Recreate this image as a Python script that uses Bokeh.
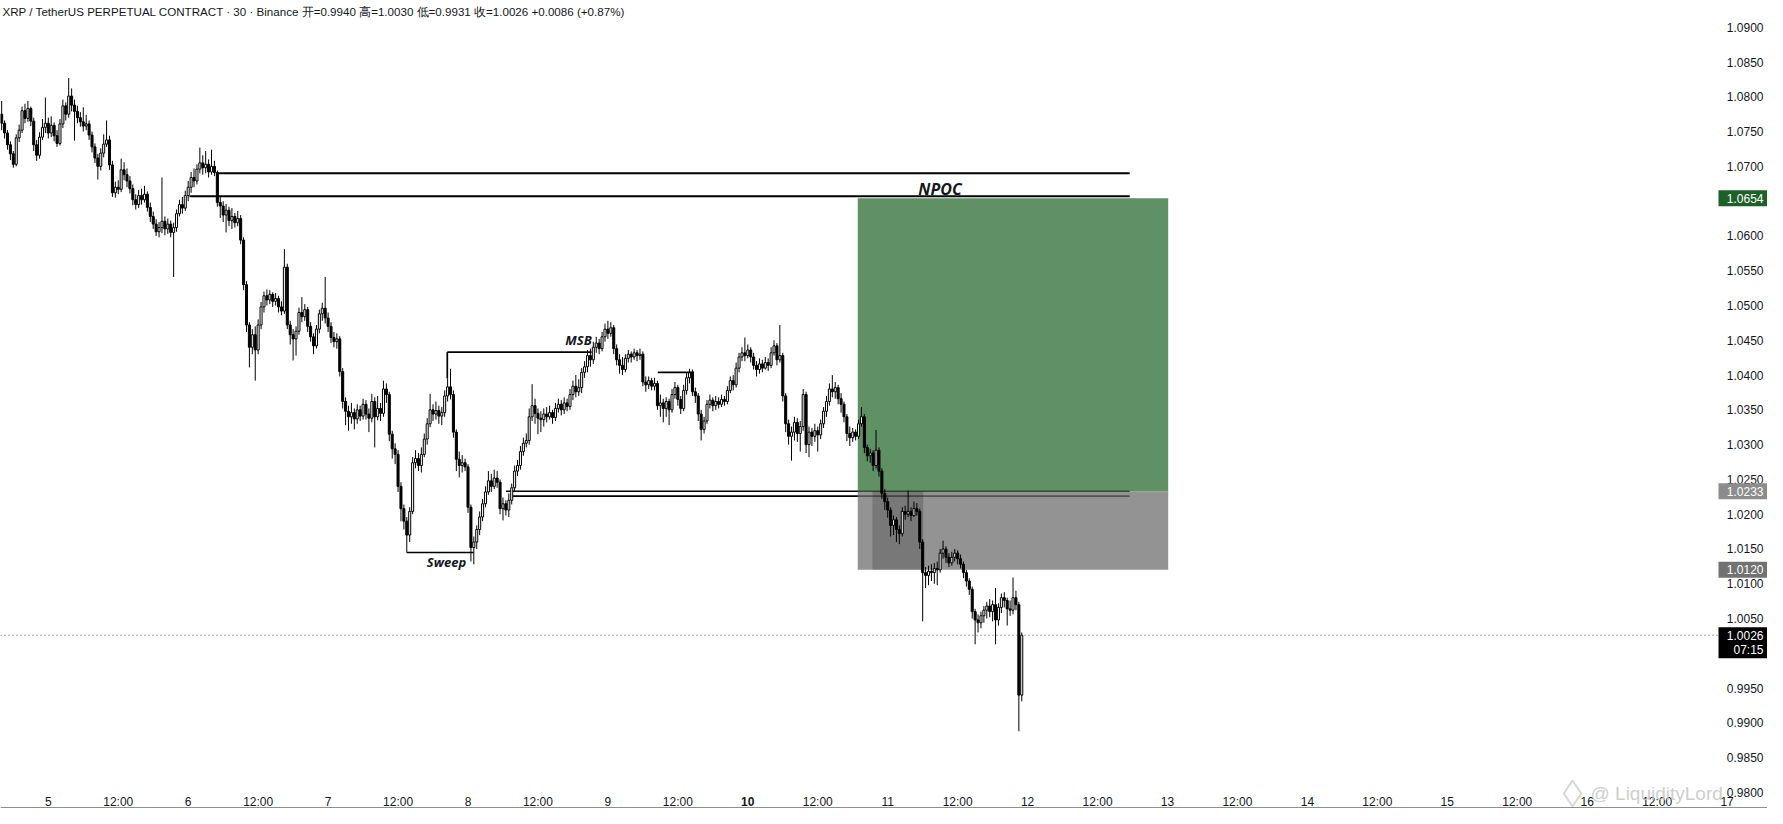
from bokeh.plotting import figure
from bokeh.models import ColumnDataSource, Range1d
from bokeh.embed import file_html
from bokeh.resources import INLINE
from bokeh.core.properties import value

# ---------------- data ----------------
header_text = ("XRP / TetherUS PERPETUAL CONTRACT · 30 · Binance  开=0.9940  高=1.0030  "
               "低=0.9931  收=1.0026  +0.0086 (+0.87%)")

start_day = 4 + 16 / 24      # first candle: day 4, 16:00
interval = 1 / 48            # 30-minute candles
first_open = 1.0775

closes = [
    1.0762, 1.0748, 1.0731, 1.0718, 1.0703, 1.0741, 1.0752, 1.0780, 1.0769, 1.0783,
    1.0765, 1.0731, 1.0716, 1.0742, 1.0756, 1.0762, 1.0748, 1.0759, 1.0744, 1.0733,
    1.0761, 1.0787, 1.0775, 1.0801, 1.0788, 1.0779, 1.0770, 1.0764, 1.0758, 1.0761,
    1.0745, 1.0728, 1.0712, 1.0700, 1.0719, 1.0732, 1.0738, 1.0702, 1.0662, 1.0670,
    1.0667, 1.0695, 1.0688, 1.0679, 1.0668, 1.0652, 1.0645, 1.0658, 1.0652, 1.0660,
    1.0641, 1.0628, 1.0617, 1.0606, 1.0612, 1.0621, 1.0610, 1.0617, 1.0605, 1.0612,
    1.0632, 1.0645, 1.0640, 1.0658, 1.0670, 1.0684, 1.0679, 1.0696, 1.0705, 1.0698,
    1.0703, 1.0692, 1.0700, 1.0691, 1.0648, 1.0643, 1.0630, 1.0637, 1.0622, 1.0628,
    1.0619, 1.0625, 1.0594, 1.0530, 1.0472, 1.0440, 1.0458, 1.0436, 1.0472, 1.0498,
    1.0514, 1.0508, 1.0516, 1.0506, 1.0510, 1.0498, 1.0492, 1.0555, 1.0472, 1.0458,
    1.0452, 1.0463, 1.0490, 1.0484, 1.0494, 1.0470, 1.0455, 1.0442, 1.0466, 1.0488,
    1.0496, 1.0482, 1.0470, 1.0454, 1.0448, 1.0452, 1.0405, 1.0362, 1.0348, 1.0340,
    1.0346, 1.0337, 1.0350, 1.0341, 1.0358, 1.0344, 1.0338, 1.0362, 1.0340, 1.0352,
    1.0345, 1.0380, 1.0372, 1.0315, 1.0294, 1.0286, 1.0240, 1.0208, 1.0190, 1.0170,
    1.0204, 1.0274, 1.0280, 1.0270, 1.0286, 1.0308, 1.0330, 1.0350, 1.0344, 1.0349,
    1.0341, 1.0346, 1.0370, 1.0383, 1.0372, 1.0318, 1.0279, 1.0270, 1.0274, 1.0268,
    1.0210, 1.0152, 1.0160, 1.0178, 1.0196, 1.0215, 1.0232, 1.0248, 1.0240, 1.0252,
    1.0246, 1.0208, 1.0215, 1.0206, 1.0220, 1.0238, 1.0262, 1.0270, 1.0290, 1.0302,
    1.0306, 1.0340, 1.0356, 1.0345, 1.0338, 1.0336, 1.0344, 1.0340, 1.0346, 1.0339,
    1.0352, 1.0358, 1.0350, 1.0360, 1.0355, 1.0372, 1.0384, 1.0376, 1.0382, 1.0404,
    1.0412, 1.0428, 1.0422, 1.0440, 1.0446, 1.0438, 1.0455, 1.0466, 1.0460, 1.0468,
    1.0438, 1.0422, 1.0414, 1.0408, 1.0424, 1.0430, 1.0426, 1.0432, 1.0428, 1.0430,
    1.0390, 1.0386, 1.0392, 1.0384, 1.0388, 1.0356, 1.0360, 1.0352, 1.0362, 1.0350,
    1.0372, 1.0382, 1.0365, 1.0352, 1.0378, 1.0396, 1.0404, 1.0376, 1.0370, 1.0344,
    1.0322, 1.0334, 1.0358, 1.0364, 1.0356, 1.0362, 1.0358, 1.0365, 1.0362, 1.0378,
    1.0392, 1.0386, 1.0410, 1.0426, 1.0432, 1.0428, 1.0436, 1.0426, 1.0414, 1.0408,
    1.0416, 1.0410, 1.0418, 1.0414, 1.0432, 1.0442, 1.0422, 1.0428, 1.0370, 1.0330,
    1.0312, 1.0318, 1.0332, 1.0316, 1.0326, 1.0372, 1.0300, 1.0318, 1.0312, 1.0320,
    1.0314, 1.0330, 1.0348, 1.0362, 1.0380, 1.0376, 1.0382, 1.0366, 1.0358, 1.0340,
    1.0316, 1.0310, 1.0318, 1.0312, 1.0330, 1.0340, 1.0296, 1.0284, 1.0288, 1.0270,
    1.0292, 1.0262, 1.0230, 1.0218, 1.0206, 1.0184, 1.0192, 1.0178, 1.0172, 1.0204,
    1.0200, 1.0204, 1.0198, 1.0208, 1.0204, 1.0160, 1.0116, 1.0112, 1.0118, 1.0116,
    1.0122, 1.0120, 1.0144, 1.0150, 1.0138, 1.0130, 1.0138, 1.0144, 1.0136, 1.0128,
    1.0116, 1.0104, 1.0092, 1.0060, 1.0048, 1.0044, 1.0054, 1.0062, 1.0068, 1.0060,
    1.0070, 1.0048, 1.0066, 1.0080, 1.0076, 1.0064, 1.0062, 1.0080, 1.0070, 0.9940, 1.0026,
]

highs = [
    1.0794, 1.0766, 1.0752, 1.0736, 1.0722, 1.0746, 1.0760, 1.0786, 1.0790, 1.0794,
    1.0786, 1.0770, 1.0738, 1.0749, 1.0768, 1.0799, 1.0770, 1.0772, 1.0763, 1.0752,
    1.0768, 1.0796, 1.0792, 1.0827, 1.0812, 1.0796, 1.0787, 1.0778, 1.0785, 1.0774,
    1.0766, 1.0750, 1.0733, 1.0718, 1.0726, 1.0746, 1.0766, 1.0744, 1.0708, 1.0678,
    1.0680, 1.0711, 1.0706, 1.0697, 1.0686, 1.0674, 1.0660, 1.0666, 1.0668, 1.0672,
    1.0664, 1.0648, 1.0635, 1.0624, 1.0620, 1.0684, 1.0628, 1.0625, 1.0622, 1.0619,
    1.0638, 1.0652, 1.0656, 1.0665, 1.0679, 1.0692, 1.0697, 1.0703, 1.0727, 1.0716,
    1.0722, 1.0710, 1.0724, 1.0708, 1.0694, 1.0658, 1.0650, 1.0646, 1.0642, 1.0640,
    1.0633, 1.0636, 1.0630, 1.0598, 1.0535, 1.0476, 1.0466, 1.0470, 1.0480, 1.0505,
    1.0520, 1.0523, 1.0522, 1.0519, 1.0518, 1.0514, 1.0506, 1.0581, 1.0560, 1.0478,
    1.0466, 1.0470, 1.0497, 1.0512, 1.0502, 1.0498, 1.0476, 1.0460, 1.0472, 1.0494,
    1.0504, 1.0541, 1.0490, 1.0476, 1.0462, 1.0460, 1.0456, 1.0410, 1.0368, 1.0356,
    1.0360, 1.0352, 1.0358, 1.0356, 1.0366, 1.0364, 1.0352, 1.0373, 1.0368, 1.0370,
    1.0360, 1.0392, 1.0388, 1.0376, 1.0320, 1.0302, 1.0292, 1.0246, 1.0214, 1.0196,
    1.0210, 1.0282, 1.0292, 1.0288, 1.0296, 1.0316, 1.0338, 1.0373, 1.0358, 1.0362,
    1.0356, 1.0354, 1.0378, 1.0395, 1.0409, 1.0378, 1.0322, 1.0290, 1.0285, 1.0280,
    1.0272, 1.0214, 1.0168, 1.0184, 1.0204, 1.0222, 1.0240, 1.0262, 1.0258, 1.0264,
    1.0262, 1.0250, 1.0224, 1.0220, 1.0230, 1.0244, 1.0270, 1.0278, 1.0298, 1.0310,
    1.0316, 1.0352, 1.0387, 1.0366, 1.0352, 1.0348, 1.0352, 1.0354, 1.0356, 1.0350,
    1.0360, 1.0366, 1.0364, 1.0368, 1.0366, 1.0380, 1.0392, 1.0400, 1.0394, 1.0410,
    1.0420, 1.0436, 1.0438, 1.0448, 1.0455, 1.0452, 1.0462, 1.0474, 1.0478, 1.0476,
    1.0472, 1.0444, 1.0430, 1.0426, 1.0430, 1.0436, 1.0434, 1.0438, 1.0436, 1.0438,
    1.0434, 1.0398, 1.0398, 1.0396, 1.0396, 1.0392, 1.0372, 1.0366, 1.0368, 1.0366,
    1.0380, 1.0390, 1.0386, 1.0370, 1.0386, 1.0404, 1.0409, 1.0408, 1.0382, 1.0374,
    1.0350, 1.0340, 1.0364, 1.0372, 1.0368, 1.0370, 1.0368, 1.0372, 1.0370, 1.0384,
    1.0398, 1.0400, 1.0418, 1.0432, 1.0440, 1.0454, 1.0444, 1.0440, 1.0432, 1.0420,
    1.0424, 1.0422, 1.0426, 1.0424, 1.0440, 1.0450, 1.0446, 1.0472, 1.0432, 1.0374,
    1.0336, 1.0326, 1.0340, 1.0338, 1.0334, 1.0380, 1.0376, 1.0326, 1.0324, 1.0330,
    1.0326, 1.0336, 1.0354, 1.0370, 1.0388, 1.0400, 1.0390, 1.0386, 1.0374, 1.0362,
    1.0344, 1.0326, 1.0324, 1.0322, 1.0336, 1.0354, 1.0344, 1.0300, 1.0294, 1.0292,
    1.0321, 1.0296, 1.0266, 1.0236, 1.0224, 1.0210, 1.0198, 1.0196, 1.0184, 1.0210,
    1.0212, 1.0234, 1.0210, 1.0218, 1.0216, 1.0208, 1.0164, 1.0124, 1.0126, 1.0128,
    1.0130, 1.0132, 1.0150, 1.0162, 1.0154, 1.0144, 1.0146, 1.0150, 1.0148, 1.0142,
    1.0132, 1.0120, 1.0108, 1.0096, 1.0064, 1.0056, 1.0060, 1.0068, 1.0074, 1.0078,
    1.0076, 1.0094, 1.0072, 1.0086, 1.0088, 1.0080, 1.0076, 1.0109, 1.0090, 1.0074, 1.0030,
]

lows = [
    1.0752, 1.0740, 1.0724, 1.0709, 1.0698, 1.0700, 1.0735, 1.0748, 1.0762, 1.0764,
    1.0758, 1.0722, 1.0708, 1.0711, 1.0738, 1.0748, 1.0740, 1.0742, 1.0736, 1.0728,
    1.0730, 1.0755, 1.0766, 1.0770, 1.0779, 1.0737, 1.0762, 1.0757, 1.0750, 1.0752,
    1.0738, 1.0720, 1.0705, 1.0681, 1.0694, 1.0713, 1.0728, 1.0695, 1.0656, 1.0655,
    1.0660, 1.0663, 1.0680, 1.0670, 1.0661, 1.0644, 1.0638, 1.0640, 1.0645, 1.0648,
    1.0635, 1.0620, 1.0610, 1.0600, 1.0598, 1.0604, 1.0601, 1.0603, 1.0598, 1.0541,
    1.0606, 1.0628, 1.0632, 1.0636, 1.0650, 1.0662, 1.0670, 1.0674, 1.0690, 1.0688,
    1.0690, 1.0684, 1.0688, 1.0686, 1.0642, 1.0626, 1.0620, 1.0605, 1.0614, 1.0610,
    1.0612, 1.0614, 1.0588, 1.0522, 1.0462, 1.0411, 1.0430, 1.0392, 1.0430, 1.0466,
    1.0490, 1.0500, 1.0502, 1.0498, 1.0500, 1.0490, 1.0486, 1.0488, 1.0466, 1.0444,
    1.0421, 1.0428, 1.0458, 1.0476, 1.0478, 1.0462, 1.0448, 1.0430, 1.0438, 1.0460,
    1.0478, 1.0474, 1.0462, 1.0446, 1.0440, 1.0438, 1.0398, 1.0352, 1.0328, 1.0320,
    1.0330, 1.0322, 1.0330, 1.0334, 1.0336, 1.0336, 1.0318, 1.0332, 1.0296, 1.0335,
    1.0334, 1.0340, 1.0360, 1.0305, 1.0280, 1.0272, 1.0232, 1.0190, 1.0178, 1.0146,
    1.0160, 1.0200, 1.0266, 1.0262, 1.0260, 1.0282, 1.0300, 1.0325, 1.0334, 1.0336,
    1.0330, 1.0328, 1.0340, 1.0362, 1.0365, 1.0310, 1.0262, 1.0253, 1.0260, 1.0262,
    1.0202, 1.0132, 1.0128, 1.0150, 1.0170, 1.0190, 1.0210, 1.0228, 1.0232, 1.0236,
    1.0238, 1.0200, 1.0191, 1.0198, 1.0196, 1.0214, 1.0232, 1.0255, 1.0264, 1.0284,
    1.0296, 1.0300, 1.0334, 1.0330, 1.0315, 1.0318, 1.0326, 1.0332, 1.0336, 1.0330,
    1.0334, 1.0346, 1.0342, 1.0344, 1.0348, 1.0350, 1.0364, 1.0368, 1.0370, 1.0374,
    1.0396, 1.0404, 1.0412, 1.0416, 1.0432, 1.0430, 1.0434, 1.0448, 1.0452, 1.0455,
    1.0430, 1.0414, 1.0402, 1.0400, 1.0404, 1.0418, 1.0418, 1.0422, 1.0420, 1.0422,
    1.0384, 1.0376, 1.0380, 1.0378, 1.0378, 1.0350, 1.0340, 1.0332, 1.0340, 1.0328,
    1.0346, 1.0366, 1.0356, 1.0344, 1.0348, 1.0372, 1.0388, 1.0370, 1.0360, 1.0334,
    1.0306, 1.0316, 1.0330, 1.0352, 1.0348, 1.0350, 1.0352, 1.0354, 1.0356, 1.0358,
    1.0374, 1.0378, 1.0382, 1.0404, 1.0420, 1.0420, 1.0424, 1.0418, 1.0408, 1.0398,
    1.0402, 1.0404, 1.0408, 1.0406, 1.0410, 1.0428, 1.0414, 1.0418, 1.0362, 1.0318,
    1.0300, 1.0277, 1.0306, 1.0304, 1.0290, 1.0320, 1.0288, 1.0282, 1.0298, 1.0304,
    1.0290, 1.0308, 1.0324, 1.0340, 1.0356, 1.0368, 1.0366, 1.0358, 1.0346, 1.0332,
    1.0305, 1.0298, 1.0304, 1.0306, 1.0308, 1.0326, 1.0288, 1.0276, 1.0274, 1.0262,
    1.0266, 1.0254, 1.0222, 1.0206, 1.0195, 1.0168, 1.0170, 1.0160, 1.0157, 1.0168,
    1.0192, 1.0196, 1.0190, 1.0196, 1.0198, 1.0150, 1.0046, 1.0094, 1.0098, 1.0104,
    1.0100, 1.0098, 1.0116, 1.0136, 1.0130, 1.0124, 1.0126, 1.0132, 1.0128, 1.0122,
    1.0108, 1.0096, 1.0084, 1.0050, 1.0013, 1.0030, 1.0036, 1.0044, 1.0050, 1.0052,
    1.0046, 1.0013, 1.0040, 1.0058, 1.0066, 1.0040, 1.0054, 1.0056, 1.0062, 0.9888, 0.9931,
]

price_ticks = [0.9800, 0.9850, 0.9900, 0.9950, 1.0000, 1.0050, 1.0100, 1.0150, 1.0200,
               1.0250, 1.0300, 1.0350, 1.0400, 1.0450, 1.0500, 1.0550, 1.0600, 1.0650,
               1.0700, 1.0750, 1.0800, 1.0850, 1.0900]
time_ticks = [5, 5.5, 6, 6.5, 7, 7.5, 8, 8.5, 9, 9.5, 10, 10.5, 11, 11.5, 12, 12.5,
              13, 13.5, 14, 14.5, 15, 15.5, 16, 16.5, 17]
time_labels = ["5", "12:00", "6", "12:00", "7", "12:00", "8", "12:00", "9", "12:00",
               "10", "12:00", "11", "12:00", "12", "12:00", "13", "12:00", "14", "12:00",
               "15", "12:00", "16", "12:00", "17"]
bold_time_label = "10"

# drawn levels (price) and their time extents (day)
npoc_levels = [1.0690, 1.0657]
npoc_starts = [6.209, 6.009]
zone_levels = [1.0233, 1.0226]
zone_starts = [8.272, 8.309]
levels_end = 12.73
msb_level, msb_start, msb_end, msb_anchor = 1.0433, 7.852, 8.884, 1.0395
sweep_level, sweep_start, sweep_end = 1.0145, 7.560, 8.039
mini_level, mini_start, mini_end = 1.0404, 9.357, 9.616

# long-position tool
pos_left, pos_right = 10.786, 13.005
pos_target, pos_entry, pos_stop = 1.0654, 1.0233, 1.0120
pos_dark_left, pos_dark_right = 10.891, 11.254

notes = ["NPOC", "MSB", "Sweep"]
note_x = [11.374, 8.79, 7.846]
note_y = [1.06523, 1.0451, 1.0131]

last_price = 1.0026
countdown = "07:15"
tag_prices = [1.0654, 1.0233, 1.0120]
tag_colors = ["#1d6128", "#8c8c8c", "#727272"]
watermark = "@ LiquidityLord"

# ---------------- figure (frame covers the whole canvas) ----------------
W, H = 1767, 808
x_start, x_end = 4.65833, 17.2888
y_low, y_high = 0.97770, 1.09384
dx = (x_end - x_start) / W      # days per pixel
dy = (y_high - y_low) / H       # price per pixel

p = figure(width=W, height=H, output_backend="svg", toolbar_location=None,
           x_range=Range1d(x_start, x_end), y_range=Range1d(y_low, y_high),
           min_border_left=0, min_border_top=0, min_border_right=0, min_border_bottom=0)
p.xaxis.visible = False
p.yaxis.visible = False
p.grid.visible = False
p.outline_line_color = None
p.background_fill_color = "#ffffff"
p.border_fill_color = "#ffffff"

axis_font = value("Liberation Sans")
ink = "#131722"

# price scale (right) and time scale (bottom)
scale_right_x = x_end - 4 * dx
p.text(x=[scale_right_x] * len(price_ticks), y=price_ticks,
       text=[f"{t:.4f}" for t in price_ticks], text_font=axis_font, text_font_size="12px",
       text_color=ink, text_align="right", text_baseline="middle")
time_src = ColumnDataSource(dict(
    x=time_ticks, y=[y_low + 7 * dy] * len(time_ticks), text=time_labels,
    style=["bold" if t == bold_time_label else "normal" for t in time_labels]))
p.text(x="x", y="y", text="text", text_font_style="style", source=time_src,
       text_font=axis_font, text_font_size="12px", text_color=ink,
       text_align="center", text_baseline="middle")
p.segment(x0=[x_start], y0=[y_low + 0.7 * dy], x1=[x_end], y1=[y_low + 0.7 * dy],
          line_color="#8f8f8f", line_width=1.4)

# lines lying under the position boxes
p.segment(x0=zone_starts, y0=zone_levels, x1=[levels_end] * 2, y1=zone_levels,
          line_color="#000000", line_width=1.7)

# position tool boxes
p.quad(left=[pos_left], right=[pos_right], bottom=[pos_entry], top=[pos_target],
       fill_color="#2a6c32", fill_alpha=0.75, line_color=None)
p.quad(left=[pos_left], right=[pos_right], bottom=[pos_stop], top=[pos_entry],
       fill_color="#6f6f6f", fill_alpha=0.75, line_color=None)
p.quad(left=[pos_dark_left], right=[pos_dark_right], bottom=[pos_stop], top=[pos_entry],
       fill_color="#000000", fill_alpha=0.18, line_color=None)

# candles
n = len(closes)
opens = [first_open] + closes[:-1]
xs = [start_day + i * interval for i in range(n)]
tops = [max(o, c) for o, c in zip(opens, closes)]
bottoms = [min(o, c) for o, c in zip(opens, closes)]
hi = [max(h, t) for h, t in zip(highs, tops)]
lo = [min(l, b) for l, b in zip(lows, bottoms)]
fills = ["#ffffff" if c >= o else "#000000" for o, c in zip(opens, closes)]
src = ColumnDataSource(dict(x=xs, top=tops, bottom=bottoms, high=hi, low=lo, fill=fills))
p.segment(x0="x", y0="high", x1="x", y1="low", source=src, line_color="#000000", line_width=1)
p.vbar(x="x", width=interval * 0.7, top="top", bottom="bottom", source=src,
       fill_color="fill", line_color="#000000", line_width=1)

# drawn lines
p.segment(x0=npoc_starts, y0=npoc_levels, x1=[levels_end] * 2, y1=npoc_levels,
          line_color="#000000", line_width=2)
p.segment(x0=[msb_start, msb_start, sweep_start, mini_start],
          y0=[msb_level, msb_level, sweep_level, mini_level],
          x1=[msb_end, msb_start, sweep_end, mini_end],
          y1=[msb_level, msb_anchor, sweep_level, mini_level],
          line_color="#000000", line_width=1.7)

# current price dotted line
tag_left = x_end - 49 * dx
p.segment(x0=[x_start], y0=[last_price], x1=[tag_left], y1=[last_price],
          line_color="#555555", line_width=1, line_dash="1 3")

# notes
p.text(x=note_x[:1], y=note_y[:1], text=notes[:1], text_font=value("Open Sans"),
       text_font_style="bold italic", text_font_size="16px", text_color=ink,
       text_align="center", text_baseline="bottom")
p.text(x=note_x[1:], y=note_y[1:], text=notes[1:], text_font=value("Open Sans"),
       text_font_style="bold italic", text_font_size="13px", text_color=ink,
       text_align="center", text_baseline="middle")

# header
p.text(x=[x_start + 2 * dx], y=[1.0922], text=[header_text],
       text_font=value("Liberation Sans"), text_font_size="11.6px", text_color=ink,
       text_align="left", text_baseline="middle")

# price tags on the scale
p.quad(left=[tag_left] * 3, right=[x_end] * 3,
       bottom=[t - 8 * dy for t in tag_prices], top=[t + 8 * dy for t in tag_prices],
       fill_color=tag_colors, line_color=None)
p.text(x=[scale_right_x] * 3, y=tag_prices, text=[f"{t:.4f}" for t in tag_prices],
       text_font=axis_font, text_font_size="12px", text_color="#ffffff",
       text_align="right", text_baseline="middle")
p.quad(left=[tag_left], right=[x_end], bottom=[last_price - 23 * dy],
       top=[last_price + 8 * dy], fill_color="#000000", line_color=None)
p.text(x=[scale_right_x] * 2, y=[last_price, last_price - 15 * dy],
       text=[f"{last_price:.4f}", countdown], text_font=axis_font, text_font_size="12px",
       text_color="#ffffff", text_align="right", text_baseline="middle")

# watermark
p.scatter(x=[x_end - 195 * dx], y=[y_low + 15 * dy], marker="diamond", size=26,
          fill_color=None, line_color="#d2d2d2", line_width=2, line_alpha=0.9)
p.text(x=[x_end - 177 * dx], y=[y_low + 15 * dy], text=[watermark],
       text_font=value("Liberation Sans"), text_font_size="19px", text_color="#c4c4c4",
       text_alpha=0.85, text_align="left", text_baseline="middle")

open("out.html", "w").write(file_html(p, INLINE))
